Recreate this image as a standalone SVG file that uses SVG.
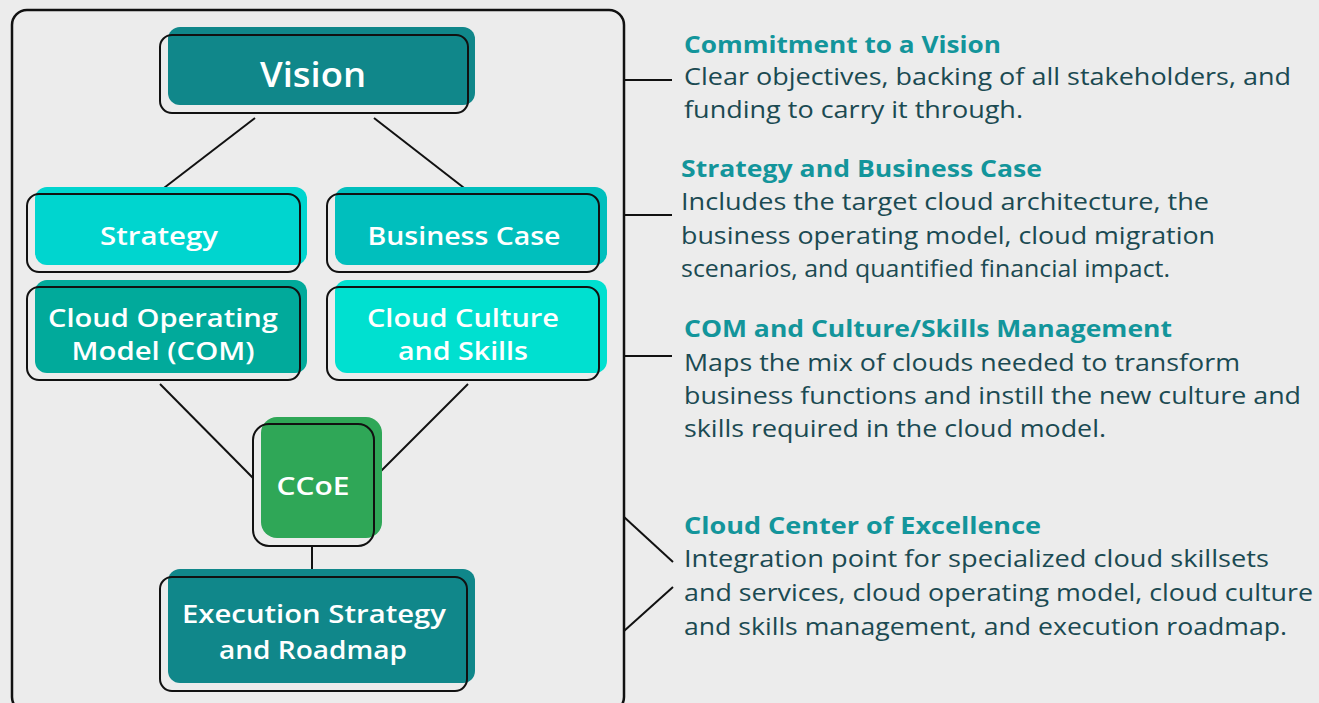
<svg xmlns="http://www.w3.org/2000/svg" width="1319" height="703" viewBox="0 0 1319 703">
<style>
.bg{fill:#ececec}
.frame{fill:none;stroke:#111;stroke-width:2.5}
.ol{fill:none;stroke:#111;stroke-width:2}
.ln{stroke:#111;stroke-width:2;fill:none}
.nt{font-family:"Open Sans","Noto Sans",sans-serif;fill:#fff;font-size:26px;font-weight:600;text-anchor:middle}
.ti{font-family:"Open Sans","Noto Sans",sans-serif;fill:#13959b;font-size:24px;font-weight:bold}
.bd{font-family:"Open Sans","Noto Sans",sans-serif;fill:#1b4a52;font-size:24px}
</style>
<rect class="bg" x="0" y="0" width="1319" height="703"/>
<rect class="frame" x="12" y="10" width="612" height="702" rx="15"/>
<g id="connectors">
<line class="ln" x1="255" y1="118" x2="160" y2="191"/>
<line class="ln" x1="374" y1="118" x2="468" y2="191"/>
<line class="ln" x1="160" y1="384" x2="253" y2="478"/>
<line class="ln" x1="468" y1="384" x2="374" y2="478"/>
<line class="ln" x1="312" y1="546" x2="312" y2="569"/>
<line class="ln" x1="624" y1="80" x2="672" y2="80"/>
<line class="ln" x1="624" y1="215" x2="672" y2="215"/>
<line class="ln" x1="624" y1="356" x2="672" y2="356"/>
<line class="ln" x1="624" y1="517" x2="673" y2="562"/>
<line class="ln" x1="624" y1="631" x2="673" y2="587"/>
</g>
<g id="vision">
<rect x="168" y="27" width="307" height="78" rx="12" fill="#10878a"/>
<rect class="ol" x="160" y="35" width="308" height="78" rx="12"/>
<text class="nt" x="313" y="87" style="font-size:34px" textLength="106" lengthAdjust="spacingAndGlyphs">Vision</text>
</g>
<g id="strategy">
<rect x="35" y="187" width="272" height="78" rx="12" fill="#00d5cf"/>
<rect class="ol" x="27" y="194" width="273" height="78" rx="12"/>
<text class="nt" x="159" y="245" textLength="118" lengthAdjust="spacingAndGlyphs">Strategy</text>
</g>
<g id="business-case">
<rect x="335" y="187" width="272" height="78" rx="12" fill="#00bfbd"/>
<rect class="ol" x="327" y="194" width="272" height="78" rx="12"/>
<text class="nt" x="464" y="245" textLength="193" lengthAdjust="spacingAndGlyphs">Business Case</text>
</g>
<g id="com">
<rect x="35" y="280" width="272" height="93" rx="12" fill="#01aa9b"/>
<rect class="ol" x="27" y="287" width="273" height="93" rx="12"/>
<text class="nt" x="163" y="327" textLength="230" lengthAdjust="spacingAndGlyphs">Cloud Operating</text>
<text class="nt" x="163" y="360" textLength="183" lengthAdjust="spacingAndGlyphs">Model (COM)</text>
</g>
<g id="culture">
<rect x="335" y="280" width="272" height="93" rx="12" fill="#00e0d0"/>
<rect class="ol" x="327" y="287" width="272" height="93" rx="12"/>
<text class="nt" x="463" y="327" textLength="192" lengthAdjust="spacingAndGlyphs">Cloud Culture</text>
<text class="nt" x="463" y="360" textLength="130" lengthAdjust="spacingAndGlyphs">and Skills</text>
</g>
<g id="ccoe">
<rect x="261" y="417" width="121" height="121" rx="16" fill="#2fa757"/>
<rect class="ol" x="253" y="424" width="121" height="122" rx="16"/>
<text class="nt" x="313" y="495" textLength="73" lengthAdjust="spacingAndGlyphs">CCoE</text>
</g>
<g id="execution">
<rect x="168" y="569" width="307" height="114" rx="12" fill="#10878a"/>
<rect class="ol" x="160" y="577" width="307" height="114" rx="12"/>
<text class="nt" x="314" y="623" textLength="264" lengthAdjust="spacingAndGlyphs">Execution Strategy</text>
<text class="nt" x="313" y="659" textLength="188" lengthAdjust="spacingAndGlyphs">and Roadmap</text>
</g>
<g id="desc-vision">
<text class="ti" x="684" y="53" textLength="317" lengthAdjust="spacingAndGlyphs">Commitment to a Vision</text>
<text class="bd" x="684" y="85" textLength="607" lengthAdjust="spacingAndGlyphs">Clear objectives, backing of all stakeholders, and</text>
<text class="bd" x="684" y="118" textLength="339" lengthAdjust="spacingAndGlyphs">funding to carry it through.</text>
</g>
<g id="desc-strategy">
<text class="ti" x="681" y="177" textLength="361" lengthAdjust="spacingAndGlyphs">Strategy and Business Case</text>
<text class="bd" x="681" y="210" textLength="528" lengthAdjust="spacingAndGlyphs">Includes the target cloud architecture, the</text>
<text class="bd" x="681" y="244" textLength="534" lengthAdjust="spacingAndGlyphs">business operating model, cloud migration</text>
<text class="bd" x="681" y="277" textLength="489" lengthAdjust="spacingAndGlyphs">scenarios, and quantified financial impact.</text>
</g>
<g id="desc-com">
<text class="ti" x="684" y="337" textLength="488" lengthAdjust="spacingAndGlyphs">COM and Culture/Skills Management</text>
<text class="bd" x="684" y="371" textLength="556" lengthAdjust="spacingAndGlyphs">Maps the mix of clouds needed to transform</text>
<text class="bd" x="684" y="404" textLength="617" lengthAdjust="spacingAndGlyphs">business functions and instill the new culture and</text>
<text class="bd" x="684" y="437" textLength="422" lengthAdjust="spacingAndGlyphs">skills required in the cloud model.</text>
</g>
<g id="desc-ccoe">
<text class="ti" x="684" y="534" textLength="357" lengthAdjust="spacingAndGlyphs">Cloud Center of Excellence</text>
<text class="bd" x="684" y="567" textLength="585" lengthAdjust="spacingAndGlyphs">Integration point for specialized cloud skillsets</text>
<text class="bd" x="684" y="601" textLength="629" lengthAdjust="spacingAndGlyphs">and services, cloud operating model, cloud culture</text>
<text class="bd" x="684" y="635" textLength="603" lengthAdjust="spacingAndGlyphs">and skills management, and execution roadmap.</text>
</g>
</svg>
